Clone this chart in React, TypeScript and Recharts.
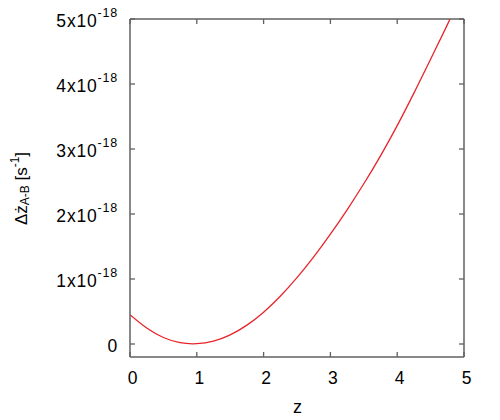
import { LineChart, Line, XAxis, YAxis, Label, ReferenceLine } from "recharts";

// z values and the difference in units of 1e-18 s^-1
const Z = [0, 0.25, 0.5, 0.75, 1.0, 1.25, 1.5, 1.75, 2.0, 2.25, 2.5, 2.75, 3.0, 3.25, 3.5, 3.75, 4.0, 4.25, 4.5, 4.75, 4.79];
const DZ = [0.45, 0.245, 0.1, 0.02, 0.005, 0.045, 0.14, 0.29, 0.49, 0.735, 1.02, 1.34, 1.69, 2.065, 2.465, 2.895, 3.36, 3.86, 4.38, 4.91, 5.0];

const X_TICKS = [0, 1, 2, 3, 4, 5];
const Y_TICKS = [0, 1, 2, 3, 4, 5];
const X_MAX = 5;
const Y_MAX = 5;

const FONT = "'Liberation Sans', Arial, sans-serif";
const FRAME = "#606060";
const PLOT = { left: 130, right: 464, top: 19, bottom: 357 };
const TICK_LEN = 5;

const data = Z.map((z, i) => ({ z, dz: DZ[i] }));

// bottom tick label plus inward tick marks on the bottom and top edges
function XTick(props: any) {
  const { payload } = props;
  const c = payload.coordinate;
  return (
    <g>
      <line x1={c} x2={c} y1={PLOT.bottom} y2={PLOT.bottom - TICK_LEN} stroke={FRAME} strokeWidth={1.3} />
      <line x1={c} x2={c} y1={PLOT.top} y2={PLOT.top + TICK_LEN} stroke={FRAME} strokeWidth={1.3} />
      <text x={c + 2.5} y={383.5} textAnchor="middle" fontFamily={FONT} fontSize={17.5} fill="#000">
        {payload.value}
      </text>
    </g>
  );
}

// left tick label plus inward tick marks on the left and right edges
function YTick(props: any) {
  const { payload } = props;
  const c = payload.coordinate;
  const v = payload.value;
  return (
    <g>
      <line x1={PLOT.left} x2={PLOT.left + TICK_LEN} y1={c} y2={c} stroke={FRAME} strokeWidth={1.3} />
      <line x1={PLOT.right} x2={PLOT.right - TICK_LEN} y1={c} y2={c} stroke={FRAME} strokeWidth={1.3} />
      <text x={118} y={c + 8} textAnchor="end" fontFamily={FONT} fontSize={17.5} fill="#000" letterSpacing={0.8}>
        {v === 0 ? (
          "0"
        ) : (
          <>
            <tspan>{v}x10</tspan>
            <tspan dy={-10} fontSize={12.5}>-18</tspan>
          </>
        )}
      </text>
    </g>
  );
}

function YLabel() {
  return (
    <text
      x={27}
      y={188.5}
      transform="rotate(-90, 27, 188.5)"
      textAnchor="middle"
      fontFamily={FONT}
      fontSize={17}
      fill="#000"
    >
      <tspan>Δż</tspan>
      <tspan dy={2} fontSize={12}>A-B</tspan>
      <tspan dy={-2}> [s</tspan>
      <tspan dy={-8} fontSize={12}>-1</tspan>
      <tspan dy={8}>]</tspan>
    </text>
  );
}

function XLabel() {
  return (
    <text x={297.5} y={413} textAnchor="middle" fontFamily={FONT} fontSize={18} fill="#000">
      z
    </text>
  );
}

export default function App() {
  return (
    <div style={{ position: "absolute", left: 0, top: 0, width: 500, height: 420, background: "#fff" }}>
      <LineChart width={500} height={420} data={data} margin={{ top: 19, right: 36, bottom: 0, left: 0 }}>
        <XAxis
          dataKey="z"
          type="number"
          domain={[0, X_MAX]}
          ticks={X_TICKS}
          allowDataOverflow
          height={63}
          tickLine={false}
          tick={XTick}
          stroke={FRAME}
          strokeWidth={1.5}
        >
          <Label content={XLabel} />
        </XAxis>
        <YAxis
          type="number"
          domain={[-0.2, Y_MAX]}
          ticks={Y_TICKS}
          allowDataOverflow
          width={130}
          tickLine={false}
          tick={YTick}
          stroke={FRAME}
          strokeWidth={1.5}
        >
          <Label content={YLabel} />
        </YAxis>
        {/* top and right edges of the frame */}
        <ReferenceLine y={Y_MAX} stroke={FRAME} strokeWidth={1.5} />
        <ReferenceLine x={X_MAX} stroke={FRAME} strokeWidth={1.5} />
        <Line
          type="natural"
          dataKey="dz"
          stroke="#e8242a"
          strokeWidth={1.3}
          dot={false}
          isAnimationActive={false}
        />
      </LineChart>
    </div>
  );
}
